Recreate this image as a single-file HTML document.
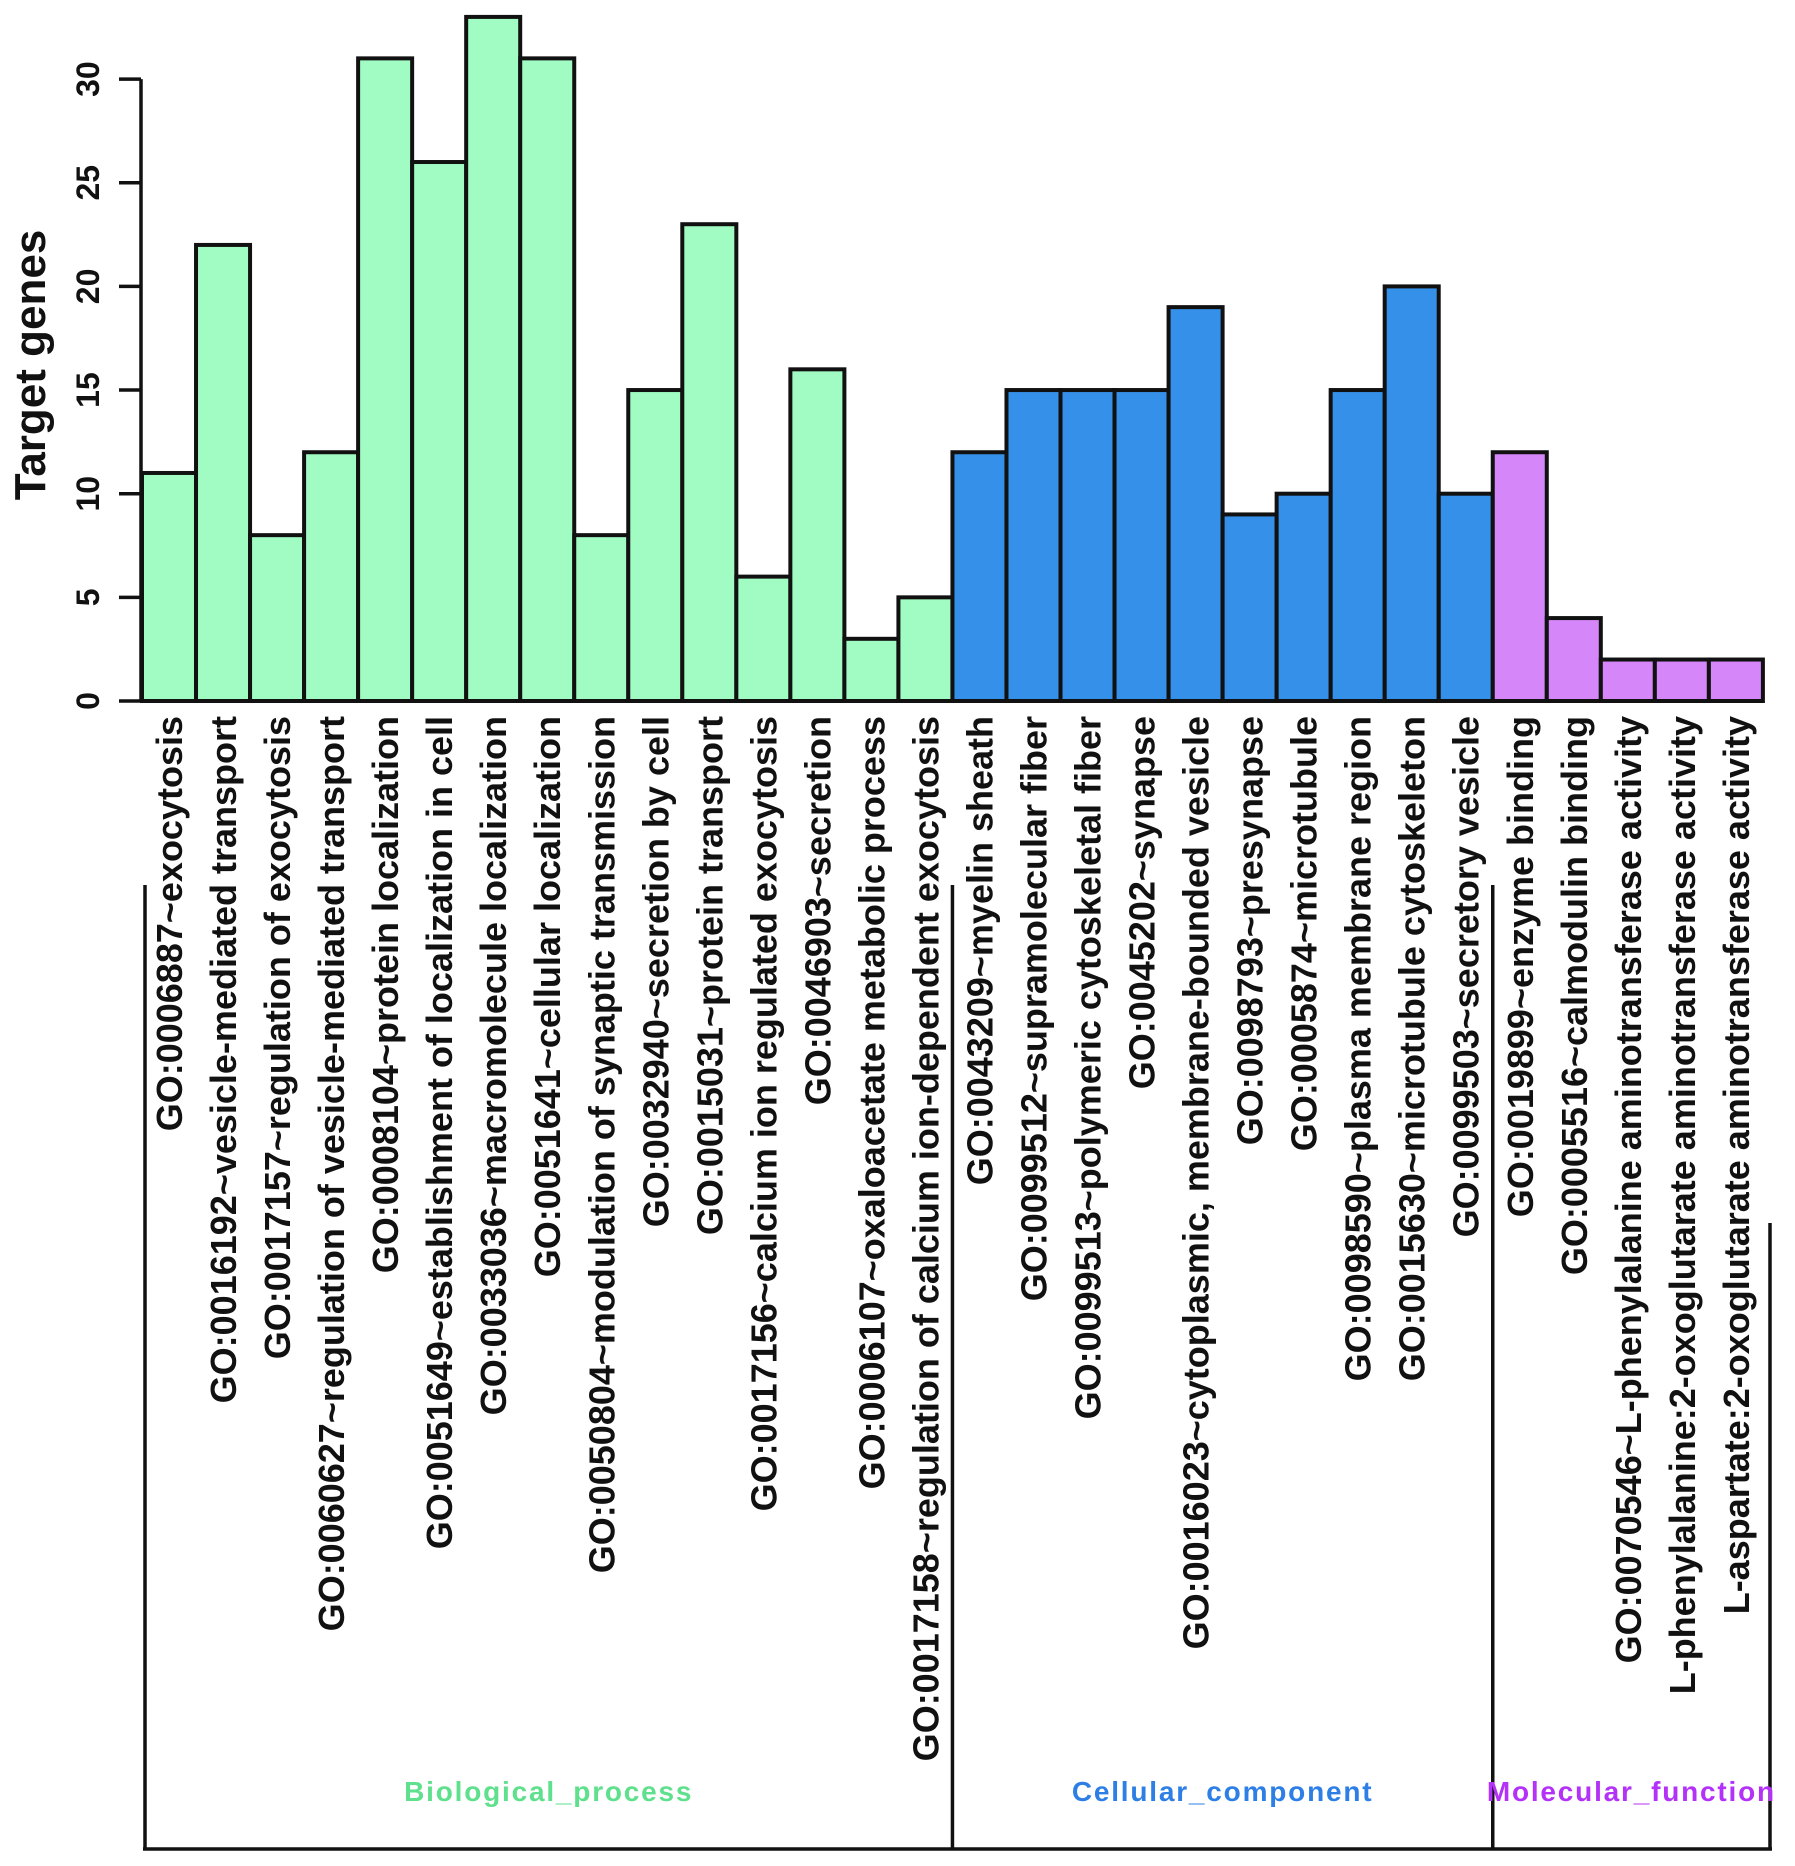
<!DOCTYPE html>
<html><head><meta charset="utf-8"><style>
html,body{margin:0;padding:0;background:#fff;}
svg{display:block;}
text{font-family:"Liberation Sans",Arial,sans-serif;font-weight:bold;}
</style></head><body>
<svg id="chart" width="1795" height="1866" viewBox="0 0 1795 1866" xmlns="http://www.w3.org/2000/svg"></svg>
<script>
const categories = ["GO:0006887~exocytosis","GO:0016192~vesicle-mediated transport","GO:0017157~regulation of exocytosis","GO:0060627~regulation of vesicle-mediated transport","GO:0008104~protein localization","GO:0051649~establishment of localization in cell","GO:0033036~macromolecule localization","GO:0051641~cellular localization","GO:0050804~modulation of synaptic transmission","GO:0032940~secretion by cell","GO:0015031~protein transport","GO:0017156~calcium ion regulated exocytosis","GO:0046903~secretion","GO:0006107~oxaloacetate metabolic process","GO:0017158~regulation of calcium ion-dependent exocytosis","GO:0043209~myelin sheath","GO:0099512~supramolecular fiber","GO:0099513~polymeric cytoskeletal fiber","GO:0045202~synapse","GO:0016023~cytoplasmic, membrane-bounded vesicle","GO:0098793~presynapse","GO:0005874~microtubule","GO:0098590~plasma membrane region","GO:0015630~microtubule cytoskeleton","GO:0099503~secretory vesicle","GO:0019899~enzyme binding","GO:0005516~calmodulin binding","GO:0070546~L-phenylalanine aminotransferase activity","L-phenylalanine:2-oxoglutarate aminotransferase activity","L-aspartate:2-oxoglutarate aminotransferase activity"];
const values = [11,22,8,12,31,26,33,31,8,15,23,6,16,3,5, 12,15,15,15,19,9,10,15,20,10, 12,4,2,2,2];
const groups = ["BP","BP","BP","BP","BP","BP","BP","BP","BP","BP","BP","BP","BP","BP","BP","CC","CC","CC","CC","CC","CC","CC","CC","CC","CC","MF","MF","MF","MF","MF"];
const groupNames = ["Biological_process","Cellular_component","Molecular_function"];
const groupKeys = ["BP","CC","MF"];
const yTicks = [0,5,10,15,20,25,30];

const fills = {BP:"#a0fcc2",CC:"#3490e8",MF:"#d587fa"};
const textCols = {BP:"#5ee08c",CC:"#2d7fe6",MF:"#b431f7"};
const NS="http://www.w3.org/2000/svg";
const svg=document.getElementById('chart');
const x0=142, bw=54.03, y0=701, pu=20.73;
const xs=i=>x0+i*bw;
const ys=v=>y0-v*pu;
function mk(tag,attrs,parent){const e=document.createElementNS(NS,tag);for(const k in attrs)e.setAttribute(k,attrs[k]);(parent||svg).appendChild(e);return e;}

values.forEach((v,i)=>{
  const r=mk('rect',{x:xs(i),y:ys(v),width:bw,height:v*pu,fill:fills[groups[i]],stroke:"#111",'stroke-width':4});
  
  
  const cx=xs(i)+bw/2;
  const t=mk('text',{x:0,y:0,transform:`translate(${cx+13},716) rotate(-90)`,'text-anchor':'end','font-size':36,fill:"#111"});
  t.textContent=categories[i];
  
  
});
const ax=mk('line',{x1:141,y1:ys(0),x2:141,y2:ys(30),stroke:"#111",'stroke-width':3.5});


yTicks.forEach(t=>{
  const l=mk('line',{x1:119,y1:ys(t),x2:141,y2:ys(t),stroke:"#111",'stroke-width':3.5});
  
  
  const tx=mk('text',{x:0,y:0,transform:`translate(99,${ys(t)}) rotate(-90)`,'text-anchor':'middle','font-size':32,fill:"#111"});
  tx.textContent=t;
  
  
});
const yt=mk('text',{x:0,y:0,transform:`translate(45,365) rotate(-90)`,'text-anchor':'middle','font-size':44,fill:"#111"});
yt.textContent="Target genes";



const bx=[145, xs(15), xs(25), 1770];
const by=[885, 885, 885, 1223];
const bottom=1849;
bx.forEach((x,k)=>{
  const l=mk('line',{x1:x,y1:by[k],x2:x,y2:bottom,stroke:"#111",'stroke-width':3.5});
  
  
});
const hb=mk('line',{x1:143,y1:bottom,x2:1772,y2:bottom,stroke:"#111",'stroke-width':3.5});


groupKeys.forEach((g,k)=>{
  const cx=(bx[k]+bx[k+1])/2;
  const t=mk('text',{x:cx,y:1801,'text-anchor':'middle','font-size':28,'letter-spacing':1.8,fill:textCols[g]});
  t.textContent=groupNames[k];
  
  
});
</script>
</body></html>
